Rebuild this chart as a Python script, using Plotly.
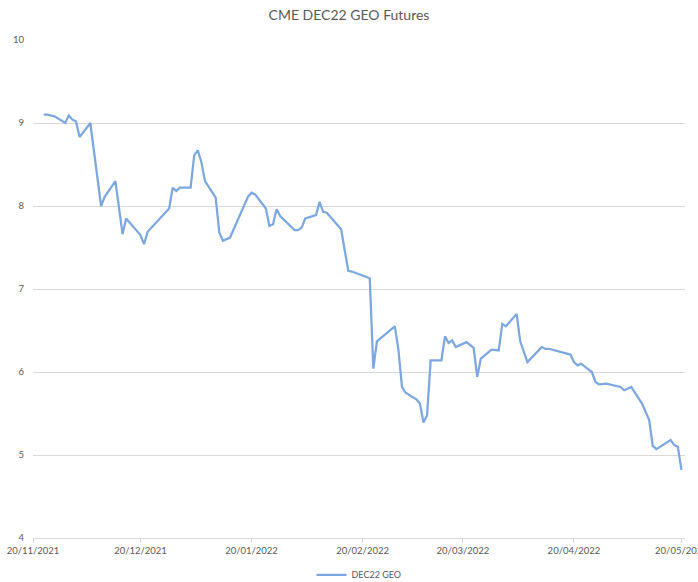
import plotly.graph_objects as go

dates = [
    "2021-11-23", "2021-11-24", "2021-11-26", "2021-11-29", "2021-11-30", "2021-12-01",
    "2021-12-02", "2021-12-03", "2021-12-06", "2021-12-09", "2021-12-10", "2021-12-13",
    "2021-12-15", "2021-12-16", "2021-12-20", "2021-12-21", "2021-12-22", "2021-12-28",
    "2021-12-29", "2021-12-30", "2021-12-31", "2022-01-03", "2022-01-04", "2022-01-05",
    "2022-01-06", "2022-01-07", "2022-01-10", "2022-01-11", "2022-01-12", "2022-01-14",
    "2022-01-19", "2022-01-20", "2022-01-21", "2022-01-24", "2022-01-25", "2022-01-26",
    "2022-01-27", "2022-01-28", "2022-02-01", "2022-02-02", "2022-02-03", "2022-02-04",
    "2022-02-07", "2022-02-08", "2022-02-09", "2022-02-10", "2022-02-14", "2022-02-15",
    "2022-02-16", "2022-02-17", "2022-02-22", "2022-02-23", "2022-02-24", "2022-03-01",
    "2022-03-02", "2022-03-03", "2022-03-04", "2022-03-07", "2022-03-08", "2022-03-09",
    "2022-03-10", "2022-03-11", "2022-03-14", "2022-03-15", "2022-03-16", "2022-03-17",
    "2022-03-18", "2022-03-21", "2022-03-23", "2022-03-24", "2022-03-25", "2022-03-28",
    "2022-03-30", "2022-03-31", "2022-04-01", "2022-04-04", "2022-04-05", "2022-04-07",
    "2022-04-11", "2022-04-12", "2022-04-13", "2022-04-19", "2022-04-20", "2022-04-21",
    "2022-04-22", "2022-04-25", "2022-04-26", "2022-04-27", "2022-04-29", "2022-05-03",
    "2022-05-04", "2022-05-06", "2022-05-09", "2022-05-11", "2022-05-12", "2022-05-13",
    "2022-05-17", "2022-05-18", "2022-05-19", "2022-05-20",
]

dec22_geo = [
    9.10, 9.10, 9.08, 9.00, 9.09, 9.04,
    9.02, 8.83, 9.00, 8.00, 8.11, 8.30,
    7.66, 7.85, 7.65, 7.54, 7.69, 7.97,
    8.22, 8.18, 8.22, 8.22, 8.61, 8.67,
    8.53, 8.30, 8.10, 7.68, 7.58, 7.62,
    8.11, 8.16, 8.14, 7.97, 7.76, 7.78,
    7.96, 7.88, 7.71, 7.71, 7.74, 7.85,
    7.89, 8.05, 7.93, 7.92, 7.72, 7.47,
    7.22, 7.21, 7.13, 6.04, 6.37, 6.55,
    6.27, 5.82, 5.75, 5.67, 5.62, 5.39,
    5.48, 6.14, 6.14, 6.43, 6.35, 6.38,
    6.30, 6.36, 6.29, 5.94, 6.16, 6.27,
    6.26, 6.58, 6.55, 6.70, 6.37, 6.12,
    6.30, 6.28, 6.28, 6.21, 6.12, 6.08,
    6.10, 6.00, 5.88, 5.85, 5.86, 5.82,
    5.78, 5.82, 5.62, 5.42, 5.11, 5.07,
    5.18, 5.12, 5.10, 4.82,
]

x_ticks = ["2021-11-20", "2021-12-20", "2022-01-20", "2022-02-20",
           "2022-03-20", "2022-04-20", "2022-05-20"]
x_tick_labels = ["20/11/2021", "20/12/2021", "20/01/2022", "20/02/2022",
                 "20/03/2022", "20/04/2022", "20/05/2022"]

fig = go.Figure()
fig.add_trace(go.Scatter(
    x=dates, y=dec22_geo, mode="lines", name="DEC22 GEO",
    line=dict(color="#7da7df", width=2.25),
))

fig.update_layout(
    width=698, height=582,
    paper_bgcolor="white", plot_bgcolor="white",
    margin=dict(l=33, r=13, t=40, b=44, autoexpand=False),
    title=dict(text="CME DEC22 GEO Futures", x=0.5, xanchor="center",
               y=1 - 15 / 582, yanchor="middle",
               font=dict(family="Lato, Open Sans, sans-serif", size=14, color="#595959")),
    font=dict(family="Lato, Open Sans, sans-serif", size=9, color="#595959"),
    showlegend=True,
    legend=dict(orientation="h", x=0.5, xanchor="center", y=-0.074, yanchor="middle",
                font=dict(size=9, color="#595959")),
)

fig.update_xaxes(
    type="date", range=["2021-11-20", "2022-05-21"],
    tickvals=x_ticks, ticktext=x_tick_labels,
    showgrid=False, showline=True, linecolor="#d9d9d9", linewidth=1,
    ticks="outside", ticklen=4, tickcolor="#d9d9d9",
    ticklabeloverflow="allow",
    tickfont=dict(size=9.5, color="#595959"),
)
fig.update_yaxes(
    range=[4, 10], dtick=1, tick0=4,
    showgrid=True, gridcolor="#d9d9d9", gridwidth=1,
    zeroline=False, showline=False, ticks="", ticklabelstandoff=8,
    tickfont=dict(size=9.5, color="#595959"),
)

fig.write_html("out.html")
